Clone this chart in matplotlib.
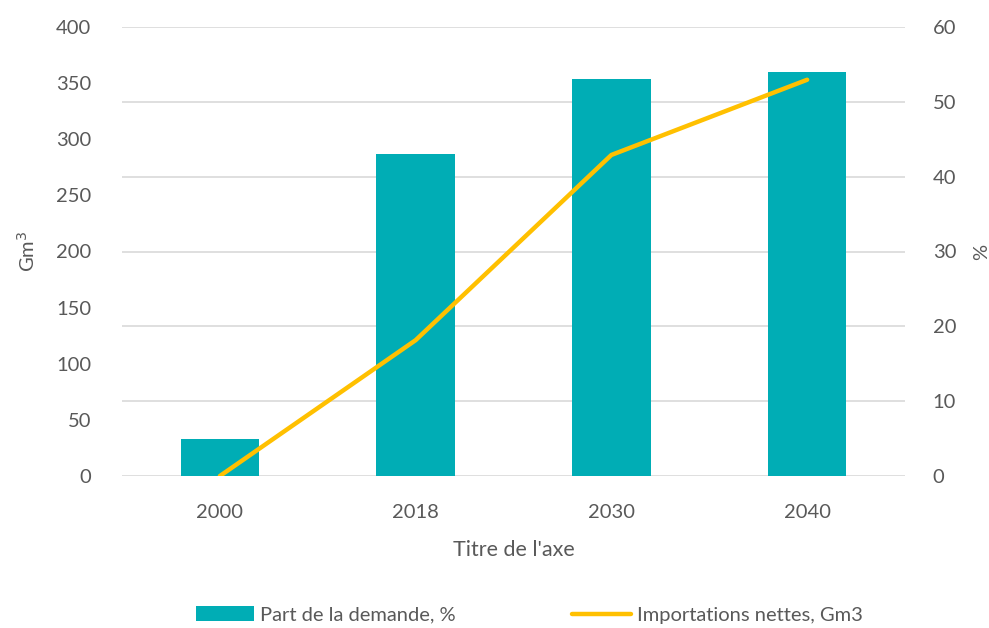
import numpy as np
import matplotlib.pyplot as plt

plt.rcParams['font.family'] = ['Lato', 'DejaVu Sans']

years = ['2000', '2018', '2030', '2040']
part_demande = [5.0, 43.0, 53.0, 54.0]        # %, right axis
importations = [0.0, 121.0, 286.0, 353.0]     # Gm3, left axis

txt = '#595959'
teal = '#00ADB5'
gold = '#FFC000'

fig = plt.figure(figsize=(9.89, 6.28), dpi=100)
ax = fig.add_axes([122 / 989, 1 - 476 / 628, (905 - 122) / 989, (476 - 27) / 628])
ax2 = ax.twinx()

x = np.arange(len(years))
bars = ax2.bar(x, part_demande, width=0.4, color=teal, label='Part de la demande, %', zorder=2)
ax2.set_ylim(0, 60)
ax2.set_yticks(range(0, 61, 10))

line, = ax.plot(x, importations, color=gold, lw=3.2, solid_capstyle='round',
                label='Importations nettes, Gm3', zorder=3)
ax.set_ylim(0, 400)
ax.set_yticks(range(0, 401, 50))
ax.set_xlim(-0.5, 3.5)
ax.set_xticks(x)
ax.set_xticklabels(years)

# line above bars
ax.set_zorder(ax2.get_zorder() + 1)
ax.patch.set_visible(False)

# gridlines drawn on the bar axis so they sit behind the bars
for v in range(0, 61, 10):
    ax2.axhline(v, color='#D9D9D9', lw=1.2, zorder=0)

for a in (ax, ax2):
    for s in a.spines.values():
        s.set_visible(False)
    a.tick_params(length=0, labelsize=14.5, labelcolor=txt)
ax.tick_params(axis='y', pad=22)
ax.tick_params(axis='x', pad=20)
ax2.tick_params(axis='y', pad=20)

ax.set_ylabel('Gm$^3$', fontsize=14.5, color=txt, labelpad=13)
ax2.set_ylabel('%', fontsize=14.5, color=txt, labelpad=12)
ax.set_xlabel("Titre de l'axe", fontsize=15.5, color=txt, labelpad=14)

fig.legend(handles=[bars, line], loc='center', bbox_to_anchor=(0.535, 1 - 615 / 628),
           ncol=2, frameon=False, fontsize=14.5, labelcolor=txt,
           handlelength=2.9, handletextpad=0.3, columnspacing=5.8)

fig.savefig('out.png', dpi=100)
